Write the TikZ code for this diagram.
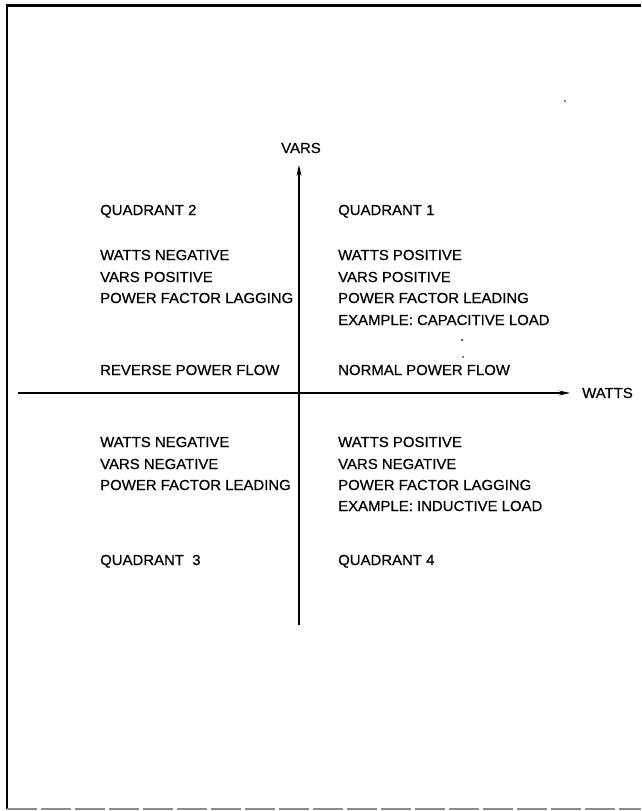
\documentclass[tikz,border=0pt]{standalone}
\usepackage{fontspec}
\setmainfont{Liberation Sans}[FakeStretch=1.03, FakeBold=0.6]
\usetikzlibrary{arrows.meta}
\begin{document}
\begin{tikzpicture}[x=1pt,y=-1pt,
  lbl/.style={anchor=base west, inner sep=0pt, font=\fontsize{14.5}{17}\selectfont},
  axislbl/.style={inner sep=0pt, font=\fontsize{14.5}{17}\selectfont},
  axisline/.style={line width=1.2pt, -{Stealth[length=11pt,width=5pt]}},
  framel/.style={line width=2.2pt},
  speck/.style={fill=black, draw=none}]
\useasboundingbox (0,0) rectangle (641,811);
% frame (open at the right)
\coordinate (ftl) at (7,5.5);
\coordinate (ftr) at (641,5.5);
\coordinate (fbl) at (7,809);
\coordinate (fbr) at (641,809);
\draw[framel] (ftr) -- (ftl) -- (fbl);
\draw[line width=1.5pt, black!45, dash pattern=on 30pt off 4pt] (fbl) -- (fbr);
% axes
\coordinate (vb) at (299,625);
\coordinate (vt) at (299,165);
\coordinate (hl) at (18,393);
\coordinate (hr) at (570,393);
\draw[axisline] (vb) -- (vt);
\draw[axisline] (hl) -- (hr);
\node[axislbl] (vars) at (301,148) {VARS};
\node[axislbl, anchor=west] (watts) at (582,393) {WATTS};
% quadrant 2
\node[lbl] (q2) at (100,215) {QUADRANT 2};
\node[lbl] (q2a) at (100,260) {WATTS NEGATIVE};
\node[lbl] (q2b) at (100,282) {VARS POSITIVE};
\node[lbl] (q2c) at (100,303) {POWER FACTOR LAGGING};
\node[lbl] (q2d) at (100,375) {REVERSE POWER FLOW};
% quadrant 1
\node[lbl] (q1) at (338,215) {QUADRANT 1};
\node[lbl] (q1a) at (338,260) {WATTS POSITIVE};
\node[lbl] (q1b) at (338,282) {VARS POSITIVE};
\node[lbl] (q1c) at (338,303) {POWER FACTOR LEADING};
\node[lbl] (q1d) at (338,325) {EXAMPLE: CAPACITIVE LOAD};
\node[lbl] (q1e) at (338,375) {NORMAL POWER FLOW};
% quadrant 3
\node[lbl] (q3a) at (100,447) {WATTS NEGATIVE};
\node[lbl] (q3b) at (100,469) {VARS NEGATIVE};
\node[lbl] (q3c) at (100,490) {POWER FACTOR LEADING};
\node[lbl] (q3) at (100,565) {QUADRANT\ \ 3};
% quadrant 4
\node[lbl] (q4a) at (338,447) {WATTS POSITIVE};
\node[lbl] (q4b) at (338,469) {VARS NEGATIVE};
\node[lbl] (q4c) at (338,490) {POWER FACTOR LAGGING};
\node[lbl] (q4d) at (338,511) {EXAMPLE: INDUCTIVE LOAD};
\node[lbl] (q4) at (338,565) {QUADRANT 4};
% specks
\fill[speck] (565,101) circle (0.9);
\fill[speck] (462,340) circle (1);
\fill[speck] (463,357) circle (0.8);
\end{tikzpicture}
\end{document}
